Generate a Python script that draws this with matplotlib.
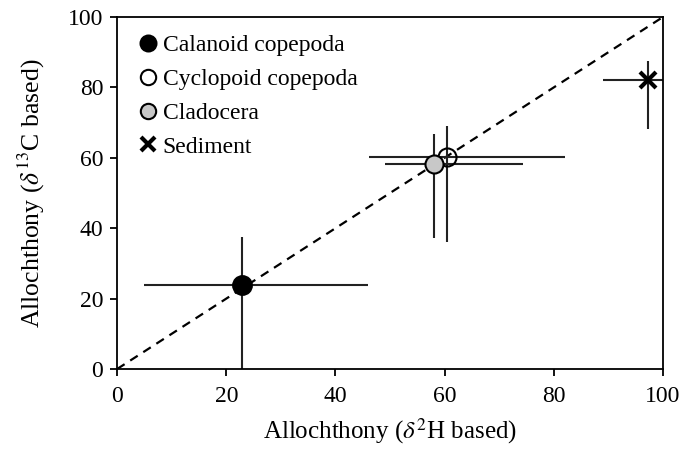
import numpy as np
import matplotlib.pyplot as plt

plt.rcParams['font.family'] = ['Liberation Serif', 'DejaVu Serif']
plt.rcParams['mathtext.fontset'] = 'stix'

# data
groups = ['Calanoid copepoda', 'Cyclopoid copepoda', 'Cladocera', 'Sediment']
x_h = [22.8, 60.5, 58.0, 97.2]
x_lo = [5.0, 46.2, 49.1, 89.0]
x_hi = [46.0, 82.1, 74.3, 102.0]
y_c = [24.0, 60.2, 58.2, 82.0]
y_lo = [-2.0, 36.2, 37.3, 68.2]
y_hi = [37.6, 69.1, 66.9, 87.5]

styles = [
    dict(marker='o', mfc='black', mec='black', ms=13.5, mew=1.5),
    dict(marker='o', mfc='none', mec='black', ms=13, mew=1.5),
    dict(marker='o', mfc='#c8c8c8', mec='black', ms=13, mew=1.5),
    dict(marker='x', mfc='none', mec='black', ms=12, mew=3),
]
zord = [4, 4, 5, 4]


def main():
    fig = plt.figure(figsize=(6.89, 4.5), dpi=100)
    ax = fig.add_axes([0.170, 0.180, 0.792, 0.782])

    ax.plot([0, 100], [0, 100], ls=(0, (4, 3)), color='black', lw=1.6, zorder=1)

    for i in range(len(groups)):
        xe = [[x_h[i] - x_lo[i]], [x_hi[i] - x_h[i]]]
        ye = [[y_c[i] - y_lo[i]], [y_hi[i] - y_c[i]]]
        ax.errorbar([x_h[i]], [y_c[i]], xerr=xe, yerr=ye, fmt='none',
                    ecolor='#222222', elinewidth=1.5, capsize=0, zorder=2)
        ax.plot([x_h[i]], [y_c[i]], ls='none', label=groups[i],
                zorder=zord[i], **styles[i])

    ax.set_xlim(0, 100)
    ax.set_ylim(0, 100)
    ax.set_xticks(np.arange(0, 101, 20))
    ax.set_yticks(np.arange(0, 101, 20))
    ax.tick_params(direction='out', length=5, width=1.3, labelsize=17, pad=7)
    ax.tick_params(axis='y', pad=5)
    for s in ax.spines.values():
        s.set_linewidth(1.3)

    ax.set_xlabel(r'Allochthony ($\delta^{2}$H based)', fontsize=18, labelpad=7)
    ax.set_ylabel(r'Allochthony ($\delta^{13}$C based)', fontsize=18.5, labelpad=15)

    ax.legend(loc='upper left', frameon=False, fontsize=17, markerscale=0.85,
              handlelength=0.6, handletextpad=0.3, labelspacing=0.52,
              borderaxespad=0.25, borderpad=0.5, bbox_to_anchor=(0.012, 1.0))

    fig.savefig('out.png', dpi=100)


if __name__ == '__main__':
    main()
